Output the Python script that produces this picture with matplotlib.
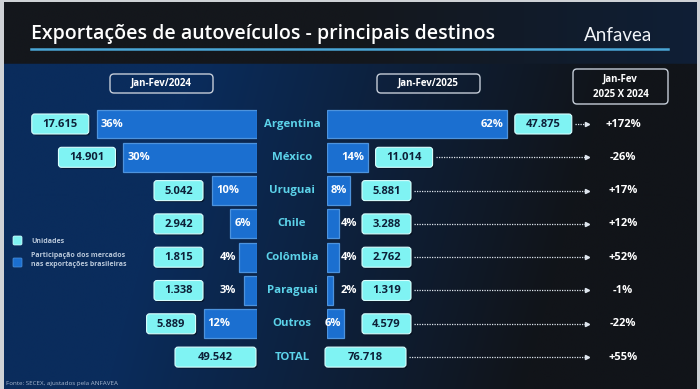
import numpy as np
import matplotlib.pyplot as plt
from matplotlib.patches import FancyBboxPatch
from matplotlib.colors import to_rgb

plt.rcParams['font.family'] = ['Open Sans', 'DejaVu Sans']

countries = ["Argentina", "México", "Uruguai", "Chile", "Colômbia", "Paraguai", "Outros"]
units_2024 = ["17.615", "14.901", "5.042", "2.942", "1.815", "1.338", "5.889"]
share_2024 = [36, 30, 10, 6, 4, 3, 12]
units_2025 = ["47.875", "11.014", "5.881", "3.288", "2.762", "1.319", "4.579"]
share_2025 = [62, 14, 8, 4, 4, 2, 6]
variation = ["+172%", "-26%", "+17%", "+12%", "+52%", "-1%", "-22%"]
total_2024 = "49.542"
total_2025 = "76.718"
total_var = "+55%"

W, H = 700, 389
fig = plt.figure(figsize=(7, 3.89), dpi=100)
fig.patch.set_facecolor('#cfd2d6')

# background axes (pixel units)
bg = fig.add_axes([0, 0, 1, 1], zorder=0)
xs = np.linspace(0, 1, W)
ys = np.linspace(0, 1, H)
X, Y = np.meshgrid(xs, ys)
navy = np.array(to_rgb('#0a2c5c'))
dark = np.array(to_rgb('#111419'))
t = np.clip((X - 0.3) / 0.6 + 0.25 * Y, 0, 1)[..., None]
img = navy * (1 - t) + dark * t
hdr_l = np.array(to_rgb('#14171c'))
hdr_r = np.array(to_rgb('#0f1f36'))
th = np.clip((X - 0.5) / 0.5, 0, 1)[..., None]
hdr = hdr_l * (1 - th) + hdr_r * th
img = np.where((Y * H < 62)[..., None], hdr, img)
bg.imshow(img, extent=[4, W - 3, H, 2], aspect='auto')
bg.set_xlim(0, W)
bg.set_ylim(H, 0)
bg.axis('off')


def fig_rect(x0, y0, x1, y1):
    return [x0 / W, 1 - y1 / H, (x1 - x0) / W, (y1 - y0) / H]


row_top, row_step = 124, 33.3
y_lo = row_top - 0.5 * row_step
y_hi = row_top + 7.5 * row_step
rows = np.arange(len(countries))

axL = fig.add_axes(fig_rect(30, y_lo, 257, y_hi), zorder=1)
axL.set_xlim(51, 0)
axR = fig.add_axes(fig_rect(327, y_lo, 327 + 2.9 * 65, y_hi), zorder=1)
axR.set_xlim(0, 65)
for a in (axL, axR):
    a.set_ylim(7.5, -0.5)
    a.axis('off')
    a.patch.set_alpha(0)

bar_kw = dict(height=0.87, color='#1b6fd0', edgecolor='#4d93dd', linewidth=0.9, zorder=3)
axL.barh(rows, share_2024, **bar_kw)
axR.barh(rows, share_2025, **bar_kw)

# overlay axes for text and boxes (pixel units)
ov = fig.add_axes([0, 0, 1, 1], zorder=2)
ov.set_xlim(0, W)
ov.set_ylim(H, 0)
ov.axis('off')
ov.patch.set_alpha(0)

# title
ov.text(31, 34, "Exportações de autoveículos - principais destinos",
        color='white', fontsize=14, fontweight='semibold', va='center', ha='left')
ov.plot([31, 668], [49, 49], color='#4aa6d6', lw=1.8)
ov.text(652, 35, "Anfavea", color='#f2f5f9', fontsize=13.5, va='center', ha='right',
        family='Lato', fontweight='normal')


def header_box(x0, y0, w, h, label):
    ov.add_patch(FancyBboxPatch((x0, y0), w, h, boxstyle='round,pad=0,rounding_size=4',
                                fc='none', ec='#c5cdd8', lw=1))
    ov.text(x0 + w / 2, y0 + h / 2, label, color='white', fontsize=7, fontweight='bold',
            ha='center', va='center', linespacing=1.5)


header_box(110, 74, 103, 19, "Jan-Fev/2024")
header_box(377, 74, 103, 19, "Jan-Fev/2025")
header_box(573, 69, 95, 35, "Jan-Fev\n2025 X 2024")


def px(ax, x, y):
    return ov.transData.inverted().transform(ax.transData.transform((x, y)))


def unit_box(x0, yc, w, label, h=20):
    ov.add_patch(FancyBboxPatch((x0 + 1.5, yc - h / 2 + 1.5), w, h,
                                boxstyle='round,pad=0,rounding_size=3',
                                fc='#030a16', ec='none', alpha=0.6, zorder=2))
    ov.add_patch(FancyBboxPatch((x0, yc - h / 2), w, h,
                                boxstyle='round,pad=0,rounding_size=3',
                                fc='#7ff3f3', ec='#d8ffff', lw=0.8, zorder=3))
    ov.text(x0 + w / 2, yc + 0.5, label, color='#0d2038', fontsize=8, fontweight='bold',
            ha='center', va='center', zorder=4)


def arrow(x0, yc, value):
    ov.plot([x0, 586], [yc, yc], color='#dfe6ee', lw=0.9, linestyle=(0, (1, 1)))
    ov.plot([587], [yc], marker='>', color='#dfe6ee', markersize=3)
    ov.text(623, yc, value, color='white', fontsize=8, fontweight='bold',
            ha='center', va='center')


pct_kw = dict(color='white', fontsize=8, fontweight='bold', va='center', zorder=4)

for i, name in enumerate(countries):
    # left side
    bl_x, yc = px(axL, share_2024[i], i)
    w = 57 if len(units_2024[i]) > 5 else 49
    box_r = min(bl_x - 8, 203)
    unit_box(box_r - w, yc, w, units_2024[i])
    if share_2024[i] >= 6:
        ov.text(bl_x + 4, yc, f"{share_2024[i]}%", ha='left', **pct_kw)
    else:
        ov.text(box_r + 25, yc, f"{share_2024[i]}%", ha='center', **pct_kw)

    # centre label
    ov.text(292, yc, name, color='#5cd3ea', fontsize=8.2, fontweight='bold',
            ha='center', va='center')

    # right side
    be_x, _ = px(axR, share_2025[i], i)
    w = 57 if len(units_2025[i]) > 5 else 49
    box_l = max(be_x + 8, 362)
    unit_box(box_l, yc, w, units_2025[i])
    if share_2025[i] >= 6:
        ov.text(be_x - 3, yc, f"{share_2025[i]}%", ha='right', **pct_kw)
    else:
        ov.text(box_l - 13, yc, f"{share_2025[i]}%", ha='center', **pct_kw)
    arrow(box_l + w + 3, yc, variation[i])

# total row
zl, yc = px(axL, 0, 7)
unit_box(zl - 82, yc, 81, total_2024)
ov.text(292, yc, "TOTAL", color='#5cd3ea', fontsize=8.2, fontweight='bold',
        ha='center', va='center')
zr, _ = px(axR, 0, 7)
unit_box(zr - 2, yc, 81, total_2025)
arrow(zr + 82, yc, total_var)

# legend
ov.add_patch(FancyBboxPatch((13, 236), 9, 9, boxstyle='round,pad=0,rounding_size=1.5',
                            fc='#7ff3f3', ec='#d8ffff', lw=0.5))
ov.text(31, 241, "Unidades", color='#b9c8da', fontsize=5, fontweight='bold', va='center')
ov.add_patch(FancyBboxPatch((13, 258), 9, 9, boxstyle='round,pad=0,rounding_size=1',
                            fc='#1b6fd0', ec='#4d93dd', lw=0.5))
ov.text(31, 260, "Participação dos mercados\nnas exportações brasileiras", color='#b9c8da',
        fontsize=5, fontweight='bold', va='center', linespacing=1.3)

# footer
ov.text(6, 384, "Fonte: SECEX, ajustados pela ANFAVEA", color='#a8b8d0', fontsize=4.5,
        va='center')

fig.savefig("out.png", dpi=100)
